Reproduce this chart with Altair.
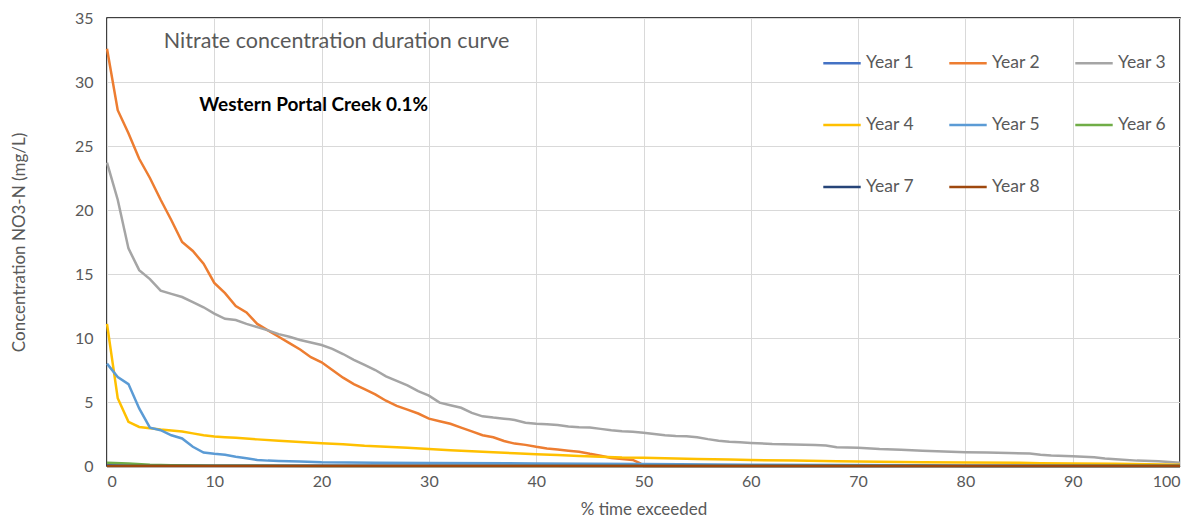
import altair as alt
import pandas as pd

series_names = ["Year 1", "Year 2", "Year 3", "Year 4", "Year 5", "Year 6", "Year 7", "Year 8"]
series_colors = ["#4472C4", "#ED7D31", "#A5A5A5", "#FFC000", "#5B9BD5", "#70AD47", "#264478", "#9E480E"]

y1_x = [0, 2, 5, 10, 20, 40, 60, 80, 100]
y1_v = [0.05, 0.04, 0.03, 0.02, 0.02, 0.01, 0.0, 0.0, 0.0]

y2_x = [0, 1, 2, 3, 4, 5, 6, 7, 8, 9, 10, 11, 12, 13, 14, 15, 16, 17, 18, 19, 20,
        21, 22, 23, 24, 25, 26, 27, 28, 29, 30, 31, 32, 33, 34, 35, 36, 37, 38, 39, 40,
        41, 42, 43, 44, 45, 46, 47, 48, 49, 49.7, 50, 60, 80, 100]
y2_v = [32.6, 27.8, 26.0, 24.0, 22.5, 20.8, 19.2, 17.5, 16.8, 15.8, 14.3, 13.5, 12.5, 12.0, 11.1,
        10.6, 10.1, 9.6, 9.1, 8.5, 8.1, 7.5, 6.9, 6.4, 6.0, 5.6, 5.1, 4.7, 4.4, 4.1, 3.7,
        3.5, 3.3, 3.0, 2.7, 2.4, 2.25, 1.95, 1.75, 1.65, 1.5, 1.37, 1.28, 1.2, 1.12, 0.95,
        0.8, 0.63, 0.55, 0.47, 0.2, 0.0, 0.0, 0.0, 0.0]

y3_x = [0, 1, 2, 3, 4, 5, 6, 7, 8, 9, 10, 11, 12, 13, 14, 15, 16, 17, 18, 19, 20,
        21, 22, 23, 24, 25, 26, 27, 28, 29, 30, 31, 32, 33, 34, 35, 36, 37, 38, 39, 40,
        41, 42, 43, 44, 45, 46, 47, 48, 49, 50, 51, 52, 53, 54, 55, 56, 57, 58, 59, 60,
        62, 64, 66, 67, 68, 70, 72, 74, 76, 78, 80, 82, 84, 86, 87, 88, 90, 92, 93, 94,
        96, 98, 100]
y3_v = [23.7, 20.8, 17.0, 15.3, 14.6, 13.7, 13.45, 13.2, 12.8, 12.4, 11.9, 11.5, 11.4, 11.1,
        10.85, 10.6, 10.3, 10.1, 9.85, 9.65, 9.45, 9.15, 8.75, 8.3, 7.9, 7.5, 7.0, 6.65, 6.3,
        5.85, 5.5, 4.95, 4.75, 4.55, 4.15, 3.88, 3.78, 3.7, 3.6, 3.38, 3.3, 3.27, 3.2, 3.08,
        3.02, 3.0, 2.9, 2.8, 2.72, 2.67, 2.6, 2.5, 2.4, 2.35, 2.32, 2.25, 2.1, 1.98, 1.9,
        1.85, 1.8, 1.72, 1.68, 1.64, 1.6, 1.46, 1.42, 1.32, 1.26, 1.2, 1.13, 1.08, 1.05,
        1.02, 0.97, 0.87, 0.82, 0.77, 0.68, 0.58, 0.52, 0.42, 0.37, 0.25]

y4_x = [0, 1, 2, 3, 4, 5, 6, 7, 8, 9, 10, 11, 12, 14, 16, 18, 20, 22, 24, 26, 28, 30,
        32, 34, 36, 38, 40, 42, 44, 46, 48, 50, 52, 55, 58, 60, 64, 68, 72, 76, 80, 85,
        87, 90, 94, 97, 100]
y4_v = [11.1, 5.3, 3.45, 3.05, 2.95, 2.85, 2.78, 2.7, 2.55, 2.4, 2.3, 2.25, 2.2, 2.08, 1.97,
        1.88, 1.78, 1.7, 1.58, 1.5, 1.42, 1.32, 1.24, 1.15, 1.07, 1.0, 0.92, 0.85, 0.78,
        0.72, 0.66, 0.64, 0.6, 0.55, 0.5, 0.47, 0.42, 0.37, 0.33, 0.29, 0.27, 0.26, 0.22,
        0.2, 0.18, 0.14, 0.1]

y5_x = [0, 1, 2, 3, 4, 5, 6, 7, 8, 9, 10, 11, 12, 13, 14, 15, 16, 18, 20, 25, 30, 40,
        50, 60, 75, 80, 100]
y5_v = [8.0, 6.95, 6.4, 4.5, 3.0, 2.8, 2.4, 2.15, 1.5, 1.05, 0.95, 0.88, 0.73, 0.6, 0.47,
        0.42, 0.4, 0.36, 0.3, 0.25, 0.23, 0.2, 0.15, 0.1, 0.05, 0.0, 0.0]

y6_x = [0, 2, 4, 6, 10, 20, 100]
y6_v = [0.25, 0.2, 0.1, 0.05, 0.02, 0.0, 0.0]

y7_x = [0, 100]
y7_v = [0.0, 0.0]

y8_x = [0, 100]
y8_v = [0.0, 0.0]

all_x = [y1_x, y2_x, y3_x, y4_x, y5_x, y6_x, y7_x, y8_x]
all_v = [y1_v, y2_v, y3_v, y4_v, y5_v, y6_v, y7_v, y8_v]

rows = []
for name, xs, vs in zip(series_names, all_x, all_v):
    for i, (xv, vv) in enumerate(zip(xs, vs)):
        rows.append({"series": name, "pct": xv, "conc": vv, "idx": i})
df = pd.DataFrame(rows)

x_ticks = [0, 10, 20, 30, 40, 50, 60, 70, 80, 90, 100]
y_ticks = [0, 5, 10, 15, 20, 25, 30, 35]

color_scale = alt.Scale(domain=series_names, range=series_colors)

FONT = "Lato"
GREY = "#595959"

layers = []
for i, name in enumerate(series_names):
    enc = dict(
        x=alt.X("pct:Q", scale=alt.Scale(domain=[0, 100], nice=False),
                axis=alt.Axis(values=x_ticks, title="% time exceeded", grid=True,
                              ticks=False, domain=False, labelPadding=7, titlePadding=12)),
        y=alt.Y("conc:Q", scale=alt.Scale(domain=[0, 35], nice=False),
                axis=alt.Axis(values=y_ticks, title="Concentration  NO3-N (mg/L)", grid=True,
                              ticks=False, domain=False, labelPadding=14, titlePadding=46)),
        order=alt.Order("idx:Q"),
    )
    if i == 0:
        enc["color"] = alt.Color(
            "series:N", scale=color_scale, sort=series_names,
            legend=alt.Legend(
                title=None, orient="none", direction="horizontal", columns=3,
                legendX=715, legendY=25, symbolType="stroke", symbolSize=1400,
                symbolStrokeWidth=2.5, labelFontSize=17.5, labelColor=GREY, labelFont=FONT,
                columnPadding=30, rowPadding=33, labelOffset=4,
            ),
        )
    else:
        enc["color"] = alt.Color("series:N", scale=color_scale, sort=series_names)
    layer = (
        alt.Chart(df)
        .transform_filter(alt.datum.series == name)
        .mark_line(strokeWidth=2.5, clip=False)
        .encode(**enc)
    )
    layers.append(layer)

ann_df = pd.DataFrame({
    "pct": [5.3, 8.6],
    "conc": [33.1, 28.2],
    "label": ["Nitrate concentration duration curve", "Western Portal Creek 0.1%"],
})

title_text = alt.Chart(ann_df.iloc[[0]]).mark_text(
    align="left", baseline="middle", font=FONT, fontSize=21.5, color=GREY
).encode(x="pct:Q", y="conc:Q", text="label:N")

sub_text = alt.Chart(ann_df.iloc[[1]]).mark_text(
    align="left", baseline="middle", font=FONT, fontSize=19, fontWeight="bold", color="#000000"
).encode(x="pct:Q", y="conc:Q", text="label:N")

chart = alt.layer(*layers, title_text, sub_text).properties(
    width=1073, height=448,
    autosize=alt.AutoSizeParams(type="none"),
    padding={"left": 99, "top": 10, "right": 12, "bottom": 54},
).configure_view(
    stroke="#000000", strokeWidth=1.5
).configure_axis(
    gridColor="#D9D9D9", gridWidth=1, labelFont=FONT, labelFontSize=16, labelColor=GREY,
    titleFont=FONT, titleFontSize=17, titleColor=GREY, titleFontWeight="normal"
)

chart.save("out.html", embed_options={"renderer": "svg", "actions": False})
